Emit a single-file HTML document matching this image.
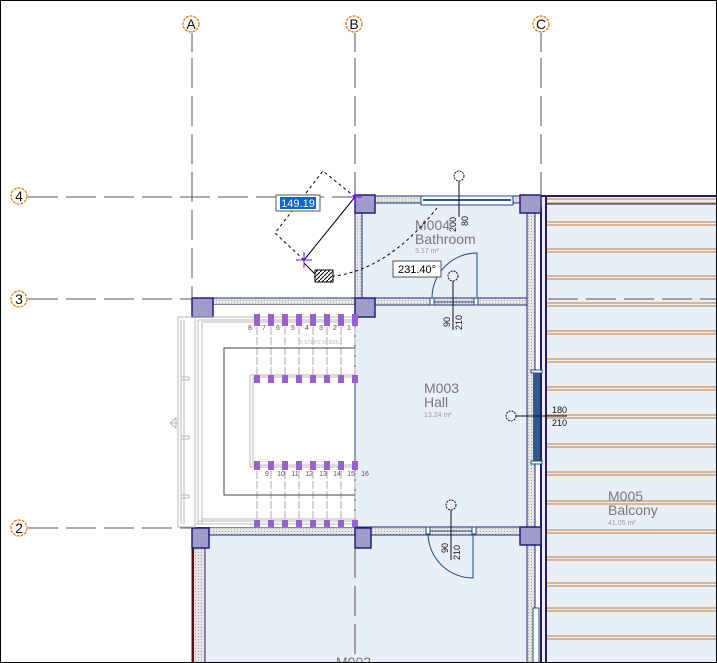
<!DOCTYPE html>
<html><head><meta charset="utf-8"><style>
html,body{margin:0;padding:0;background:#fff}
svg{display:block}
text{font-family:"Liberation Sans",sans-serif}
</style></head><body>
<svg width="717" height="663" viewBox="0 0 717 663" xmlns="http://www.w3.org/2000/svg">
<defs>
<pattern id="dot" width="3" height="3" patternUnits="userSpaceOnUse"><rect width="3" height="3" fill="#e4e4e4"/><rect width="1" height="1" fill="#aaa"/></pattern>
<pattern id="hat" width="4" height="4" patternUnits="userSpaceOnUse"><rect width="4" height="4" fill="#fff"/><path d="M0 4L4 0" stroke="#000" stroke-width="1"/></pattern>
</defs>
<rect width="717" height="663" fill="#fff"/>
<!-- balcony -->
<rect x="541" y="196" width="176" height="467" fill="#e8eff7"/>
<g stroke="#cf8f5a" stroke-width="1.2">
<path d="M545 199H717M545 203H717"/>
<path d="M545 222H717M545 225H717M545 249H717M545 252H717M545 276H717M545 279H717M545 303H717M545 306H717M545 331H717M545 334H717M545 359H717M545 362H717M545 387H717M545 390H717M545 415H717M545 418H717M545 444H717M545 447H717M545 472H717M545 475H717M545 501H717M545 504H717M545 530H717M545 533H717M545 557H717M545 560H717M545 583H717M545 586H717M545 608H717M545 611H717M545 636H717M545 639H717"/>
</g>
<g stroke="#2a1a5e" stroke-width="2" fill="none"><path d="M541 196H717M546 196V663M541 207V663"/><path d="M546 204H717" stroke-width="1"/></g>
<!-- rooms -->
<rect x="362" y="203" width="165" height="95" fill="#e8eff7"/>
<rect x="355" y="305" width="172" height="222" fill="#e8eff7"/>
<rect x="205" y="535" width="322" height="128" fill="#e8eff7"/>
<!-- walls -->
<g fill="url(#dot)" stroke="#1f2a80" stroke-width="1">
<rect x="355" y="196" width="186" height="7"/>
<rect x="355" y="203" width="7" height="102"/>
<rect x="527" y="203" width="8" height="460"/>
<rect x="213" y="298" width="314" height="7"/>
<rect x="192" y="527" width="349" height="8"/>
<rect x="192" y="535" width="13" height="128"/>
</g>
<path d="M193 535V663" stroke="#5a1010" stroke-width="2"/>
<!-- stair area -->
<rect x="195" y="305" width="160" height="222" fill="#fff"/>
<path d="M355 305V527" stroke="#1f4a90"/>
<!-- windows -->
<rect x="421" y="196" width="92" height="9" fill="#fff" stroke="#1f4a80"/>
<path d="M423 200H511" stroke="#2a5a90" stroke-width="2"/>
<rect x="533" y="372" width="7" height="90" fill="#2c5a8c"/>
<rect x="531" y="370" width="11" height="3" fill="#fff" stroke="#1f4a80"/>
<rect x="531" y="461" width="11" height="3" fill="#fff" stroke="#1f4a80"/>
<rect x="533" y="608" width="6" height="55" fill="#fff" stroke="#1f4a80"/>
<!-- columns -->
<g fill="#9f9ccb" stroke="#1f2080" stroke-width="1.5">
<rect x="355" y="195" width="20" height="18"/>
<rect x="520" y="195" width="21" height="18"/>
<rect x="355" y="298" width="20" height="19"/>
<rect x="192" y="298" width="21" height="19"/>
<rect x="192" y="528" width="17" height="20"/>
<rect x="355" y="528" width="16" height="20"/>
<rect x="520" y="527" width="21" height="18"/>
</g>
<!-- grids -->
<g stroke="#555" stroke-width="1" fill="none">
<path d="M192 33V52M192 58V298" stroke-dasharray="30 8"/>
<path d="M355 33V52M355 58V196M355 548V663" stroke-dasharray="30 8"/>
<path d="M541 33V52M541 58V196" stroke-dasharray="30 8"/>
<path d="M28 197H355" stroke-dasharray="30 8"/>
<path d="M28 299H192M548 299H717" stroke-dasharray="30 8"/>
<path d="M28 528H192" stroke-dasharray="30 8"/>
</g>
<g fill="#fff" stroke="#f07800" stroke-width="1.2" stroke-dasharray="3 1">
<circle cx="191" cy="24" r="8"/><circle cx="354" cy="24" r="8"/><circle cx="541" cy="24" r="8"/>
<circle cx="19" cy="196" r="8"/><circle cx="19" cy="299" r="8"/><circle cx="19" cy="528" r="8"/>
</g>
<g font-size="14" text-anchor="middle" fill="#111">
<text x="191" y="29">A</text><text x="354" y="29">B</text><text x="541" y="29">C</text>
<text x="19" y="201">4</text><text x="19" y="304">3</text><text x="19" y="533">2</text>
</g>
<!-- handrail -->
<g stroke="#b8b8b8" fill="none">
<rect x="178" y="317" width="17" height="210"/>
<path d="M181 320V524M184 320V524M198 320V524M202 322V524"/>
<path d="M195 317H355M198 320H355M202 322H355M195 524H355M198 521H355M202 519H355"/>
<path d="M250 375V467M253 377V465M253 377H355M250 375H355M253 465H355M250 467H355"/>
<path d="M181 377h8v3h-8M181 436h8v3h-8M181 495h8v3h-8"/>
<path d="M178 423h-8M170 423l6-5v10z"/>
</g>
<g stroke="#aaa" fill="none" stroke-dasharray="8 2">
<path d="M257 317V382M271 317V382M285 317V382M299 317V382M313 317V382M327 317V382M341 317V382M355 317V382"/>
<path d="M257 461V527M271 461V527M285 461V527M299 461V527M313 461V527M327 461V527M341 461V527M355 461V527"/>
</g>
<path d="M355 348H224V495H355" stroke="#444" fill="none"/>
<g fill="#9a60d0">
<rect x="254" y="314" width="6" height="12"/><rect x="268" y="314" width="6" height="12"/><rect x="282" y="314" width="6" height="12"/><rect x="296" y="314" width="6" height="12"/><rect x="310" y="314" width="6" height="12"/><rect x="324" y="314" width="6" height="12"/><rect x="338" y="314" width="6" height="12"/><rect x="352" y="314" width="6" height="12"/>
<rect x="254" y="375" width="6" height="8"/><rect x="268" y="375" width="6" height="8"/><rect x="282" y="375" width="6" height="8"/><rect x="296" y="375" width="6" height="8"/><rect x="310" y="375" width="6" height="8"/><rect x="324" y="375" width="6" height="8"/><rect x="338" y="375" width="6" height="8"/><rect x="352" y="375" width="6" height="8"/>
<rect x="254" y="461" width="6" height="9"/><rect x="268" y="461" width="6" height="9"/><rect x="282" y="461" width="6" height="9"/><rect x="296" y="461" width="6" height="9"/><rect x="310" y="461" width="6" height="9"/><rect x="324" y="461" width="6" height="9"/><rect x="338" y="461" width="6" height="9"/><rect x="352" y="461" width="6" height="9"/>
<rect x="254" y="520" width="6" height="7"/><rect x="268" y="520" width="6" height="7"/><rect x="282" y="520" width="6" height="7"/><rect x="296" y="520" width="6" height="7"/><rect x="310" y="520" width="6" height="7"/><rect x="324" y="520" width="6" height="7"/><rect x="338" y="520" width="6" height="7"/><rect x="352" y="520" width="6" height="7"/>
</g>
<g font-size="7" fill="#555" text-anchor="middle">
<text x="250" y="330">8</text><text x="264" y="330">7</text><text x="278" y="330">6</text><text x="293" y="330">5</text><text x="307" y="330">4</text><text x="321" y="330">3</text><text x="335" y="330">2</text><text x="349" y="330">1</text>
<text x="267" y="476">9</text><text x="281" y="476">10</text><text x="295" y="476">11</text><text x="309" y="476">12</text><text x="323" y="476">13</text><text x="337" y="476">14</text><text x="351" y="476">15</text><text x="365" y="476">16</text>
<text x="320" y="344" font-size="5" fill="#bbb">16 STEPS 18.8/25.1</text>
</g>
<!-- doors -->
<g stroke="#1f4a80" fill="none">
<path d="M432 298A45 45 0 0 1 477 253V298"/>
<rect x="430" y="298" width="4" height="7" fill="#fff"/><rect x="474" y="298" width="4" height="7" fill="#fff"/>
<path d="M434 302H474"/>
<path d="M428 533A45 45 0 0 0 473 578V533"/>
<rect x="426" y="527" width="4" height="7" fill="#fff"/><rect x="472" y="527" width="4" height="7" fill="#fff"/>
<path d="M430 531H472"/>
</g>
<!-- labels -->
<g stroke="#111" fill="none">
<circle cx="459" cy="176" r="5" stroke-dasharray="2 1"/><path d="M459 181V217"/>
<circle cx="453" cy="276" r="5" stroke-dasharray="2 1"/><path d="M453 281V330"/>
<circle cx="511" cy="416" r="5" stroke-dasharray="2 1"/><path d="M516 416H567"/>
<circle cx="451" cy="505" r="5" stroke-dasharray="2 1"/><path d="M451 510V560"/>
</g>
<g font-size="9" fill="#111">
<text transform="translate(456 232) rotate(-90)">200</text><text transform="translate(468 226) rotate(-90)">80</text>
<text transform="translate(450 327) rotate(-90)">90</text><text transform="translate(462 330) rotate(-90)">210</text>
<text x="552" y="413">180</text><text x="552" y="426">210</text>
<text transform="translate(448 553) rotate(-90)">90</text><text transform="translate(460 560) rotate(-90)">210</text>
</g>
<g fill="#777">
<text x="415" y="230" font-size="14">M004</text><text x="415" y="244" font-size="14">Bathroom</text><text x="415" y="253" font-size="7" fill="#999">3.17 m²</text>
<text x="424" y="393" font-size="14">M003</text><text x="424" y="407" font-size="14">Hall</text><text x="424" y="417" font-size="7" fill="#999">13.24 m²</text>
<text x="608" y="501" font-size="14">M005</text><text x="608" y="515" font-size="14">Balcony</text><text x="608" y="525" font-size="7" fill="#999">41.05 m²</text>
<text x="336" y="667" font-size="14">M002</text>
</g>
<!-- rotation tool -->
<g stroke="#000" fill="none" stroke-width="1">
<path d="M355 197L323 171L275 233L304 260" stroke-dasharray="3 3"/>
<path d="M355 197L304 260"/>
<path d="M314 277Q380 280 437 208" stroke-dasharray="3 3"/>
<path d="M304 263L316 275"/>
</g>
<rect x="315" y="270" width="18" height="12" fill="url(#hat)" stroke="#000"/>
<g stroke="#8000ff"><path d="M296 260H312M304 252V268M348 197H362M355 190V204"/></g>
<rect x="276" y="195" width="44" height="16" fill="#fff" stroke="#555"/>
<rect x="280" y="197" width="36" height="12" fill="#0a66c8"/>
<text x="298" y="207" font-size="11" fill="#fff" text-anchor="middle">149.19</text>
<rect x="393" y="261" width="48" height="16" fill="#fff" stroke="#555"/>
<text x="417" y="273" font-size="11" fill="#000" text-anchor="middle">231.40°</text>
<rect x="0.5" y="0.5" width="716" height="662" fill="none" stroke="#000"/>
</svg>
</body></html>
